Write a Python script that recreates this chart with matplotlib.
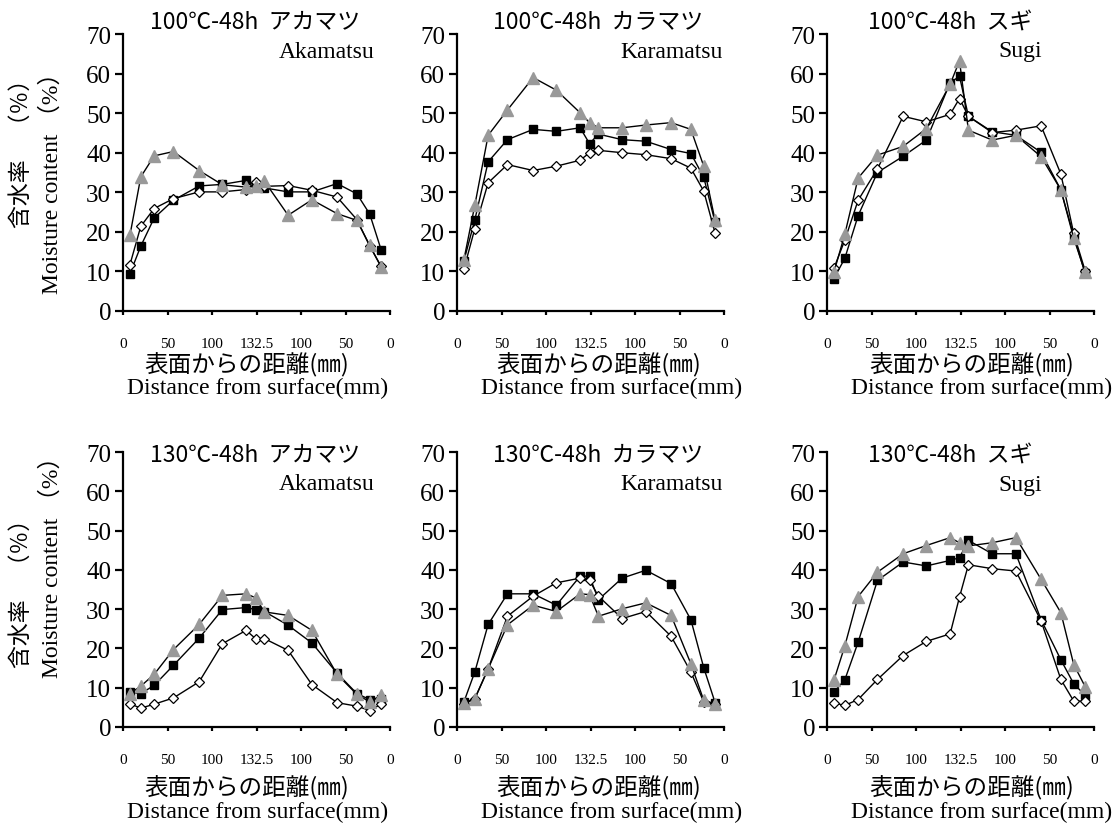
import matplotlib
matplotlib.use("Agg")
import matplotlib.pyplot as plt

# ---------------- data ----------------
x_pos = [7, 18, 31.5, 51, 77, 100.5, 124.5, 134, 143, 167, 191, 216.5, 236.5, 249.5, 261]
tick_pos = [0, 45, 90, 135, 180, 225, 270]
tick_labels = ["0", "50", "100", "132.5", "100", "50", "0"]

titles = ["100℃-48h  アカマツ", "100℃-48h  カラマツ", "100℃-48h  スギ",
          "130℃-48h  アカマツ", "130℃-48h  カラマツ", "130℃-48h  スギ"]
species = ["Akamatsu", "Karamatsu", "Sugi", "Akamatsu", "Karamatsu", "Sugi"]

# 100℃ Akamatsu
p1_sq = [9.4, 16.4, 23.5, 28.0, 31.6, 32.0, 33.0, 31.8, 31.1, 30.1, 30.1, 32.2, 29.6, 24.5, 15.5]
p1_di = [11.7, 21.4, 25.9, 28.4, 30.1, 30.1, 30.7, 32.6, 31.5, 31.7, 30.5, 28.8, 23.1, 16.4, 11.3]
p1_tr = [19.1, 33.9, 39.2, 40.3, 35.5, 31.9, 31.3, 31.5, 32.8, 24.2, 28.1, 24.6, 22.9, 16.6, 11.1]
# 100℃ Karamatsu
p2_sq = [12.7, 23.0, 37.7, 43.3, 45.9, 45.4, 46.3, 42.3, 44.7, 43.3, 42.9, 40.8, 39.8, 33.8, 22.4]
p2_di = [10.6, 20.8, 32.4, 37.0, 35.5, 36.6, 38.1, 40.0, 40.6, 40.0, 39.5, 38.5, 36.1, 30.3, 19.7]
p2_tr = [13.0, 26.7, 44.4, 50.8, 59.0, 55.8, 50.1, 47.6, 46.3, 46.3, 47.0, 47.6, 45.9, 36.6, 22.9]
# 100℃ Sugi
p3_sq = [8.2, 13.3, 24.1, 35.0, 39.1, 43.2, 57.7, 59.3, 49.2, 45.3, 44.4, 40.1, 30.6, 19.0, 9.5]
p3_di = [10.8, 17.9, 28.0, 35.9, 49.2, 47.8, 49.7, 53.7, 49.2, 45.1, 45.7, 46.8, 34.6, 19.6, 10.2]
p3_tr = [9.8, 19.4, 33.6, 39.4, 41.6, 46.1, 57.3, 63.2, 45.7, 43.2, 44.4, 39.0, 30.6, 18.4, 9.8]
# 130℃ Akamatsu
p4_sq = [8.9, 8.5, 10.6, 15.7, 22.6, 29.9, 30.4, 29.9, 29.4, 25.9, 21.4, 13.7, 8.5, 7.0, 7.2]
p4_di = [5.9, 4.8, 5.8, 7.4, 11.5, 21.2, 24.6, 22.5, 22.5, 19.5, 10.8, 6.2, 5.3, 4.2, 5.8]
p4_tr = [8.5, 10.4, 13.4, 19.7, 26.1, 33.5, 33.9, 32.9, 29.3, 28.4, 24.6, 13.4, 8.3, 6.4, 8.1]
# 130℃ Karamatsu
p5_sq = [6.4, 14.0, 26.1, 33.9, 33.9, 31.0, 38.4, 38.4, 32.4, 37.9, 39.9, 36.5, 27.3, 15.1, 6.2]
p5_di = [5.8, 7.2, 14.8, 28.2, 33.3, 36.7, 37.9, 37.3, 33.3, 27.6, 29.4, 23.1, 14.0, 6.4, 5.8]
p5_tr = [6.2, 7.2, 14.8, 26.0, 31.0, 29.4, 33.9, 33.7, 28.2, 30.1, 31.6, 28.4, 16.1, 6.8, 5.9]
# 130℃ Sugi
p6_sq = [8.9, 12.0, 21.6, 37.3, 42.0, 41.0, 42.4, 43.1, 47.5, 44.1, 44.1, 27.3, 17.1, 11.0, 8.1]
p6_di = [6.1, 5.5, 7.0, 12.1, 18.2, 21.8, 23.7, 33.1, 41.3, 40.3, 39.7, 27.0, 12.1, 6.6, 6.6]
p6_tr = [11.9, 20.6, 33.2, 39.4, 44.1, 46.2, 48.2, 46.9, 46.1, 46.9, 48.2, 37.6, 29.1, 15.9, 10.3]

panels = [(p1_sq, p1_di, p1_tr), (p2_sq, p2_di, p2_tr), (p3_sq, p3_di, p3_tr),
          (p4_sq, p4_di, p4_tr), (p5_sq, p5_di, p5_tr), (p6_sq, p6_di, p6_tr)]

# ---------------- layout ----------------
W, H = 1120, 828
SERIF = ["Liberation Serif", "Noto Sans CJK JP"]
GOTH = ["Noto Sans CJK JP", "DejaVu Sans"]

fig = plt.figure(figsize=(W / 100, H / 100), dpi=100)


def fx(x):
    return x / W


def fy(y):
    return 1 - y / H


col_left = [123, 457, 827]
ax_w = 267
row_top = [35, 453]
row_bot = [312, 728]
title_left = [150, 493, 868]
title_y = [22, 455]
sp_y = [52, 485]
sp_right = [375, 723, 1042]
xl_jp_cx = [247, 599, 972]
xl_en_cx = [258, 612, 982]
xl_jp_y = [365, 788]
xl_en_y = [388, 812]

for i, (sq, di, tr) in enumerate(panels):
    r, c = divmod(i, 3)
    ax = fig.add_axes([fx(col_left[c]), fy(row_bot[r]), ax_w / W, (row_bot[r] - row_top[r]) / H])
    ax.plot(x_pos, sq, color="black", lw=1.0, marker="s", ms=5.6,
            mfc="black", mec="black", zorder=3)
    ax.plot(x_pos, di, color="black", lw=1.0, marker="D", ms=5.0,
            mfc="white", mec="black", mew=0.9, zorder=4)
    ax.plot(x_pos, tr, color="black", lw=1.0, marker="^", ms=8.0,
            mfc="#999999", mec="#999999", zorder=5)
    ax.set_xlim(0, 270)
    ax.set_ylim(0, 70)
    ax.set_xticks(tick_pos)
    ax.set_xticklabels(tick_labels, family=SERIF, fontsize=11)
    ax.set_yticks(range(0, 71, 10))
    ax.set_yticklabels([str(v) for v in range(0, 71, 10)], family=SERIF, fontsize=18)
    for s in ["top", "right"]:
        ax.spines[s].set_visible(False)
    for s in ["left", "bottom"]:
        ax.spines[s].set_linewidth(1.6)
    ax.tick_params(axis="y", direction="out", length=5.5, width=1.6, pad=3)
    ax.tick_params(axis="x", direction="out", length=3, width=1.6, pad=16)
    ax.patch.set_visible(False)

    fig.text(fx(title_left[c]), fy(title_y[r]), titles[i], family=GOTH,
             fontsize=16.5, ha="left", va="center")
    fig.text(fx(sp_right[c]), fy(sp_y[r]), species[i], family=SERIF,
             fontsize=17, ha="right", va="center")
    fig.text(fx(xl_jp_cx[c]), fy(xl_jp_y[r]), "表面からの距離(㎜)", family=GOTH,
             fontsize=17, ha="center", va="center")
    fig.text(fx(xl_en_cx[c]), fy(xl_en_y[r]), "Distance from surface(mm)", family=SERIF,
             fontsize=17, ha="center", va="center")

# y labels (first column only)
for r, (jy, ey) in enumerate([(148, 177), (588, 561)]):
    fig.text(fx(21), fy(jy), "含水率\u3000（％）", family=GOTH, fontsize=16.5,
             rotation=90, ha="center", va="center")
    fig.text(fx(52), fy(ey), "Moisture content （%）", family=SERIF, fontsize=17,
             rotation=90, ha="center", va="center")

fig.savefig("out.png", dpi=100)
